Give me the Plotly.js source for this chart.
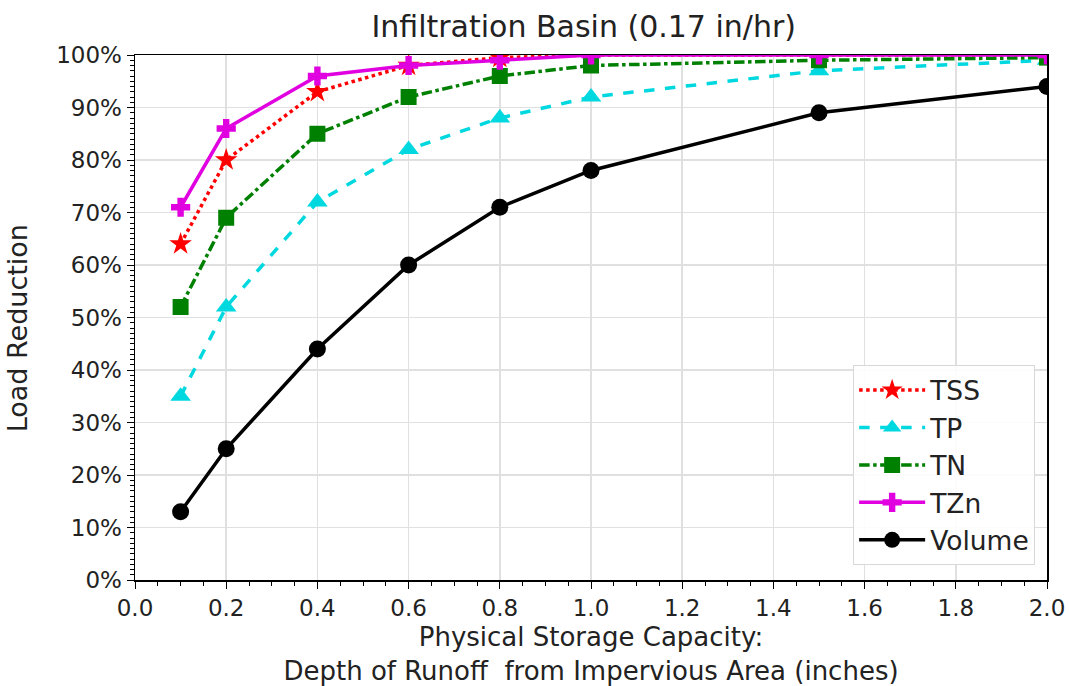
<!DOCTYPE html>
<html>
<head>
<meta charset="utf-8">
<script src="https://cdn.plot.ly/plotly-3.0.1.min.js"></script>
<style>html,body{margin:0;padding:0;background:#fff;}#chart{width:1069px;height:686px;}</style>
</head>
<body>
<div id="chart"></div>
<script>
const depth = [0.1, 0.2, 0.4, 0.6, 0.8, 1.0, 1.5, 2.0];
const tss = [64, 80, 93, 98, 99.5, 100, 100, 100];
const tp = [35, 52, 72, 82, 88, 92, 97, 99];
const tn = [52, 69, 85, 92, 96, 98, 99, 99.5];
const tzn = [71, 86, 96, 98, 99, 100, 100, 100];
const volume = [13, 25, 44, 60, 71, 78, 89, 94];

const font = "DejaVu Sans, sans-serif";
function tr(name, y, color, dash, symbol, size) {
  return {x: depth, y: y, name: name, type: 'scatter', mode: 'lines+markers',
    line: {color: color, width: 3.5, dash: dash},
    marker: {symbol: symbol, size: size, color: color}};
}
const data = [
  tr('TSS', tss, '#ff0000', 'dot', 'star', 17),
  tr('TP', tp, '#00d8e0', 'dash', 'triangle-up', 18),
  tr('TN', tn, '#008000', 'dashdot', 'square', 16),
  tr('TZn', tzn, '#e000e0', 'solid', 'cross', 16),
  tr('Volume', volume, '#000000', 'solid', 'circle', 17)
];
const layout = {
  width: 1069, height: 686,
  margin: {l: 135, r: 22, t: 55, b: 106},
  paper_bgcolor: '#fff', plot_bgcolor: '#fff',
  font: {family: font, size: 23, color: '#222'},
  title: {text: 'Infiltration Basin (0.17 in/hr)', x: 0.492, xanchor: 'center', xref: 'paper', y: 0.976, yanchor: 'top', font: {size: 30, family: font, color: '#222'}},
  xaxis: {range: [0, 2], dtick: 0.2, tick0: 0, tickformat: '.1f', showline: true, linecolor: '#000', linewidth: 1.5, mirror: true,
    ticks: 'outside', ticklen: 7, tickcolor: '#000', gridcolor: '#e0e0e0', gridwidth: 1.5, zeroline: false,
    minor: {dtick: 0.05, ticks: 'outside', ticklen: 4, tickcolor: '#000', showgrid: false},
    tickfont: {size: 23},
    title: {text: 'Physical Storage Capacity:<br>Depth of Runoff\u00A0 from Impervious Area (inches)', font: {size: 26}, standoff: 8}},
  yaxis: {range: [0, 100], dtick: 10, ticksuffix: '%', showline: true, linecolor: '#000', linewidth: 1.5, mirror: true,
    ticks: 'outside', ticklen: 7, tickcolor: '#000', gridcolor: '#e0e0e0', gridwidth: 1.5, zeroline: false,
    minor: {dtick: 1, ticks: 'outside', ticklen: 4, tickcolor: '#000', showgrid: false},
    tickfont: {size: 23}},
  annotations: [{text: 'Load Reduction', xref: 'paper', yref: 'paper', x: -0.129, y: 0.48, xanchor: 'center', yanchor: 'middle',
    textangle: -90, showarrow: false, font: {size: 27, family: font, color: '#222'}}],
  legend: {x: 0.987, xanchor: 'right', y: 0.028, yanchor: 'bottom', bgcolor: 'rgba(255,255,255,0.9)', bordercolor: '#d8d8d8', borderwidth: 1,
    font: {size: 26.5}, itemwidth: 66},
  showlegend: true
};
Plotly.newPlot('chart', data, layout, {displayModeBar: false, staticPlot: true});
</script>
</body>
</html>
